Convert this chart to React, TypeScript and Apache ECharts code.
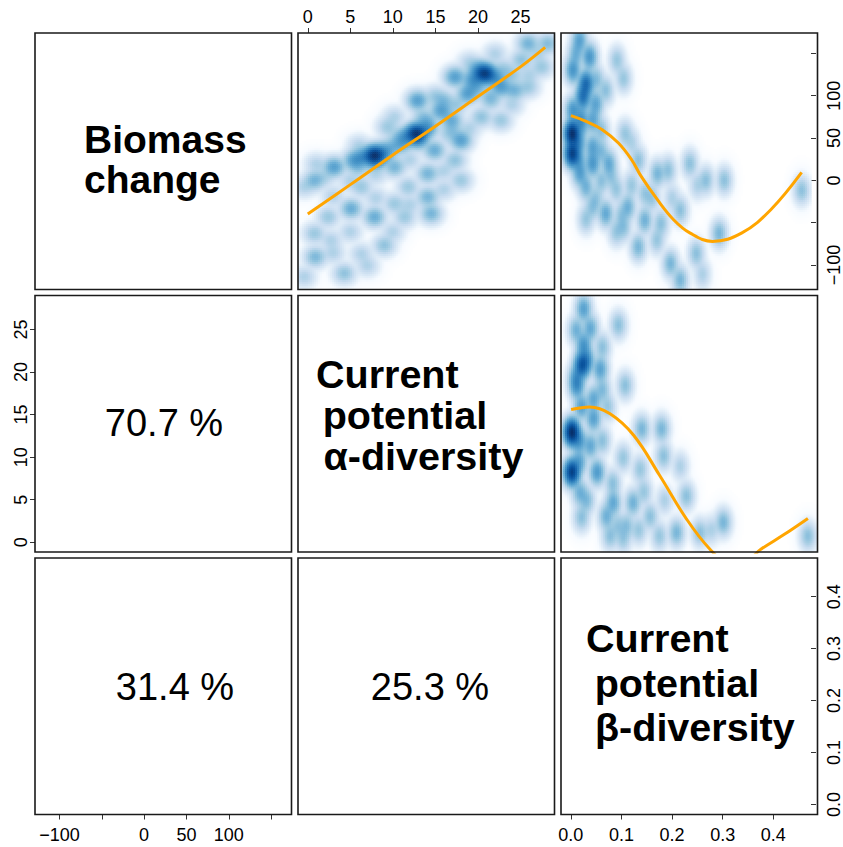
import React, { useEffect, useRef } from "react";
import * as echarts from "echarts";

// ---------------- axis ranges & ticks ----------------
const biomassRange: [number, number] = [-128.8, 174.0];
const alphaRange: [number, number] = [-1.15, 29.0];
const betaRange: [number, number] = [-0.0195, 0.4745];

const biomassTicks = [-100, -50, 0, 50, 100, 150];
const biomassTickLabels = [-100, 0, 50, 100];
const alphaTicks = [0, 5, 10, 15, 20, 25];
const betaTicks = [0, 0.1, 0.2, 0.3, 0.4];

// ---------------- diagonal / lower panel texts ----------------
const biomassName = ["Biomass", "change"];
const alphaName = ["Current", "potential", "α-diversity"];
const betaName = ["Current", "potential", "β-diversity"];
const explained = ["70.7 %", "31.4 %", "25.3 %"];

// ---------------- point clusters [x, y, number of sites] ----------------
// α-diversity (x) vs biomass change (y)
const alphaVsBiomass: number[][] = [
  // dense cores and their halos
  [20.8, 126.8, 40], [19.5, 120, 8], [22, 122, 8], [20, 132, 6],
  [12.75, 56, 45], [11.5, 52, 8], [14, 62, 8], [13, 48, 6],
  [7.85, 30.3, 45], [6.5, 28, 8], [9, 33, 8], [8, 24, 6],
  // medium clusters
  [25.9, 162.2, 4], [28.2, 162.2, 3], [27.5, 134.6, 2], [17.3, 122.8, 7],
  [22.75, 111, 7], [24.3, 107, 4], [18.8, 103, 7], [25.9, 111, 2], [12.9, 95, 7],
  [10.2, 75.6, 1.2], [15.7, 83, 7], [16.9, 71.7, 5], [18.0, 48, 7],
  [20.4, 75.5, 2.5], [22.7, 71.7, 2], [9.4, 63.8, 2], [11.0, 44.1, 5], [14.9, 36.2, 5],
  [5.5, 24.4, 8], [3.1, 16.5, 7], [0.8, 0.8, 4], [10.2, 16.5, 4],
  [14.1, 8.7, 4], [17.3, 24.4, 2.5], [18.0, 0.8, 2], [-0.4, -7, 1.2], [14.1, -18.9, 4],
  [14.5, -38.5, 4], [5.1, -32.6, 5], [7.85, -42.5, 5], [11.4, -42.5, 2], [2.4, -42.5, 2],
  [0.8, -62, 2], [10.2, -26.7, 2], [6.3, -7, 2], [0.9, -89.7, 3.5], [4.3, -109, 2.5],
  [9.0, -76, 2.5], [6.3, -86, 1.2], [-0.4, -113, 1.2], [2.75, -70, 1.2], [11.8, -7, 2],
  [25.1, 142.6, 2.5],
  // sparse sites
  [2, 5, 1.2], [5, 0, 1.2], [8, 8, 1.2], [9, 40, 1.2], [12, 25, 1.2], [16, 12, 1.2], [16.5, 55, 1.2],
  [19, 62, 1.2], [21.5, 95, 2], [23, 132, 2], [26, 125, 1.2], [27, 150, 1.2], [15, 100, 2],
  [13.5, 76, 2], [10.5, 52, 1.2], [6, 42, 1.2], [1, 20, 1.2], [3, -18, 1.2], [8, -20, 1.2],
  [12, -28, 1.2], [16, -10, 1.2], [3, -85, 1.2], [7, -100, 1.2], [5, -60, 1.2], [10, -60, 1.2],
  [20, 110, 2], [24, 90, 1.2], [17.5, 90, 2], [19, 140, 1.2], [22, 150, 1.2],
  [19.5, 112, 3], [16, 95, 3], [14, 70, 3], [21.5, 100, 2], [24, 125, 2], [10, 40, 3],
  [6, 15, 2], [17, 60, 2],
];
// β-diversity (x) vs biomass change (y)
const betaVsBiomass: number[][] = [
  [0.0025, 56, 45], [0.0025, 32.3, 35], [0.015, 45, 8], [0.02, 65, 6], [0.015, 25, 6],
  [0.017, 166, 6], [0.037, 146.4, 8], [0.004, 130.7, 8], [0.030, 115, 18], [0.024, 99.2, 16],
  [0.049, 91, 6], [0.004, 83.5, 8], [0.043, 71.7, 6],
  [0.043, 40.1, 6], [0.043, 20.5, 8], [0.075, 20.5, 5], [0.069, 107, 2.5], [0.091, 142.5, 2],
  [0.104, 121, 2], [0.107, 56, 2], [0.017, 8.7, 4], [0.030, -7, 4], [0.043, -30.7, 2.5],
  [0.069, -38.5, 5], [0.113, -30.7, 4], [0.133, 24.4, 2.5], [0.146, -46.4, 4], [0.104, -54.3, 2.5],
  [0.133, -78, 3.5], [0.171, 8.7, 3.5], [0.192, 12.6, 2.5], [0.216, -34.6, 2.5], [0.235, 20.5, 2.5],
  [0.267, 0.8, 2.5], [0.303, 0.8, 2.5], [0.197, -97.5, 3.5], [0.216, -117, 3.5], [0.248, -85.7, 2.5],
  [0.293, -62, 3.5], [0.456, -11, 2.5], [0.178, -50, 2.5], [0.146, -14.9, 2],
  [0.01, 150, 4], [0.05, 120, 3], [0.02, 75, 6], [0.06, 60, 2.5], [0.02, 10, 2.5], [0.06, 0, 2.5],
  [0.09, -10, 2], [0.12, -5, 2], [0.09, -60, 2], [0.16, -20, 2], [0.2, -20, 1.2],
  [0.17, -70, 2], [0.03, -45, 2], [0.12, 45, 1.2], [0.25, -5, 1.2], [0.26, -110, 1.2],
  [0.06, 35, 3], [0.08, 5, 2], [0.1, -40, 2], [0.05, -20, 2],
];
// β-diversity (x) vs α-diversity (y)
const betaVsAlpha: number[][] = [
  [0.0013, 13.0, 45], [0.0013, 8.3, 35], [0.021, 20.9, 25], [0.015, 12, 8], [0.015, 9.5, 6],
  [0.03, 21.5, 8], [0.01, 19.5, 6],
  [0.024, 27.5, 6], [0.037, 25.2, 5], [0.024, 23.2, 8], [0.056, 20.4, 6],
  [0.011, 18.5, 9], [0.043, 16.9, 5], [0.091, 25.6, 2.5], [0.104, 18.5, 2.5], [0.043, 14.6, 6],
  [0.037, 11.4, 5], [0.050, 8.3, 7], [0.017, 5.9, 4],
  [0.136, 13.4, 3.5], [0.174, 13.4, 3.5], [0.178, 10.2, 2.5], [0.081, 4.7, 5], [0.119, 4.7, 4],
  [0.068, 3.1, 4], [0.152, 3.1, 2.5], [0.222, 5.5, 2.5], [0.203, 1.2, 3.5], [0.248, 1.2, 2.5],
  [0.293, 2.4, 3.5], [0.456, 0.8, 2.5], [0.107, 2.0, 2.5], [0.133, 8.65, 2],
  [0.01, 25, 4], [0.06, 23, 2.5], [0.02, 16, 6], [0.06, 12, 2.5], [0.02, 3, 2.5], [0.08, 7, 2.5],
  [0.1, 10, 2], [0.14, 6, 2], [0.18, 5, 1.2], [0.1, 0.5, 2], [0.17, 0.8, 2],
  [0.27, 1.5, 1.2], [0.21, 9, 1.2], [0.07, 16, 2], [0.075, 0.8, 2.5],
  [0.03, 5, 3], [0.09, 2, 2], [0.13, 1.5, 2], [0.06, 18, 3],
];

// ---------------- loess smoothers ----------------
const loessAlphaX = [0, 5, 10, 15, 20, 25, 27.9];
const loessAlphaBiomass = [-39.7, -5, 30, 64, 99, 134, 157];
const loessBetaX1 = [0, 0.03, 0.062, 0.094, 0.12, 0.139, 0.171, 0.203, 0.235, 0.28, 0.338, 0.395, 0.456];
const loessBetaBiomass = [76.4, 69.7, 59.9, 44.1, 24.4, 4.7, -22.8, -46.4, -62, -72, -62, -34.6, 9.4];
const loessBetaX2 = [0, 0.036, 0.075, 0.12, 0.17, 0.222, 0.267, 0.3, 0.33, 0.366, 0.41, 0.456];
const loessBetaAlpha = [15.6, 15.9, 15.1, 12.6, 7.9, 2.75, -0.8, -2.3, -2.4, -0.8, 0.9, 2.8];

// ---------------- layout ----------------
const COLS = [35, 298, 561];
const ROWS = [33, 295.5, 558];
const SIZE = 256.5;
const FONT = '"Liberation Sans", Arial, Helvetica, sans-serif';

const RAMP = ["#FFFFFF", "#F7FBFF", "#DEEBF7", "#C6DBEF", "#9ECAE1", "#6BAED6", "#4292C6", "#2171B5", "#08519C", "#08306B"];
function hex(c: string) {
  return [parseInt(c.slice(1, 3), 16), parseInt(c.slice(3, 5), 16), parseInt(c.slice(5, 7), 16)];
}
function rampColor(t: number) {
  const p = t * (RAMP.length - 1);
  const i = Math.min(Math.floor(p), RAMP.length - 2);
  const f = p - i;
  const a = hex(RAMP[i]);
  const b = hex(RAMP[i + 1]);
  const c = a.map((v, k) => Math.round(v + (b[k] - v) * f));
  return `rgb(${c[0]},${c[1]},${c[2]})`;
}
const PALETTE = Array.from({ length: 256 }, (_, i) => rampColor(i / 255));

function densityCells(pts: number[][], xr: number[], yr: number[], bx: number, by: number, n: number) {
  const dx = (xr[1] - xr[0]) / n;
  const dy = (yr[1] - yr[0]) / n;
  const dens = new Float64Array(n * n);
  let mx = 0;
  for (let j = 0; j < n; j++) {
    const cy = yr[0] + (j + 0.5) * dy;
    for (let i = 0; i < n; i++) {
      const cx = xr[0] + (i + 0.5) * dx;
      let s = 0;
      for (const p of pts) {
        const u = (cx - p[0]) / bx;
        const v = (cy - p[1]) / by;
        const e = u * u + v * v;
        if (e < 60) s += p[2] * Math.exp(-0.5 * e);
      }
      dens[j * n + i] = s;
      if (s > mx) mx = s;
    }
  }
  const lev = (k: number) => Math.round(Math.pow(dens[k] / mx, 0.25) * 255);
  const cells: number[][] = [];
  for (let j = 0; j < n; j++) {
    let i = 0;
    while (i < n) {
      const L = lev(j * n + i);
      let k = i + 1;
      while (k < n && lev(j * n + k) === L) k++;
      if (L >= 5) cells.push([xr[0] + i * dx, yr[0] + j * dy, xr[0] + k * dx, yr[0] + (j + 1) * dy, L]);
      i = k;
    }
  }
  return cells;
}

const renderCell = (_params: any, api: any) => {
  const p0 = api.coord([api.value(0), api.value(3)]);
  const p1 = api.coord([api.value(2), api.value(1)]);
  return {
    type: "rect",
    shape: { x: p0[0], y: p0[1], width: p1[0] - p0[0] + 0.6, height: p1[1] - p0[1] + 0.6 },
    style: { fill: PALETTE[api.value(4)] },
  };
};

const minus = (v: number) => (v < 0 ? "\u2212" + Math.abs(v) : String(v));

function valueAxis(gridIndex: number, range: number[], cfg: any) {
  const base: any = {
    type: "value",
    gridIndex,
    min: range[0],
    max: range[1],
    splitLine: { show: false },
    axisLine: { show: false, onZero: false },
    show: !!cfg,
  };
  if (!cfg) return base;
  return {
    ...base,
    position: cfg.position,
    axisTick: { show: true, length: 5, customValues: cfg.ticks, lineStyle: { color: "#333", width: 1 } },
    axisLabel: {
      show: true,
      customValues: cfg.labels,
      formatter: cfg.formatter,
      rotate: cfg.rotate || 0,
      margin: cfg.margin,
      color: "#000",
      fontSize: 18,
      fontFamily: FONT,
      showMinLabel: true,
      showMaxLabel: true,
    },
  };
}

export default function App() {
  const ref = useRef<HTMLDivElement>(null);
  useEffect(() => {
    if (!ref.current) return;
    const chart = echarts.init(ref.current, undefined, { renderer: "svg" });

    const grids = [
      [1, 0], // 0: alpha vs biomass
      [2, 0], // 1: beta vs biomass
      [0, 1], // 2: left alpha axis
      [2, 1], // 3: beta vs alpha
      [0, 2], // 4: bottom biomass axis
      [2, 2], // 5: beta axes
    ].map(([c, r]) => ({ left: COLS[c], top: ROWS[r], width: SIZE, height: SIZE, show: false }));

    const xAxis = [
      valueAxis(0, alphaRange, { position: "top", ticks: alphaTicks, labels: alphaTicks, formatter: minus, margin: 7 }),
      valueAxis(1, betaRange, null),
      valueAxis(2, [0, 1], null),
      valueAxis(3, betaRange, null),
      valueAxis(4, biomassRange, { position: "bottom", ticks: biomassTicks, labels: biomassTickLabels, formatter: minus, margin: 11 }),
      valueAxis(5, betaRange, { position: "bottom", ticks: betaTicks, labels: betaTicks, formatter: (v: number) => v.toFixed(1), margin: 11 }),
    ];
    const yAxis = [
      valueAxis(0, biomassRange, null),
      valueAxis(1, biomassRange, { position: "right", ticks: biomassTicks, labels: biomassTickLabels, formatter: minus, rotate: 90, margin: 14 }),
      valueAxis(2, alphaRange, { position: "left", ticks: alphaTicks, labels: alphaTicks, formatter: minus, rotate: 90, margin: 5.5 }),
      valueAxis(3, alphaRange, null),
      valueAxis(4, [0, 1], null),
      valueAxis(5, betaRange, { position: "right", ticks: betaTicks, labels: betaTicks, formatter: (v: number) => v.toFixed(1), rotate: 90, margin: 14 }),
    ];

    const pxA = SIZE / (alphaRange[1] - alphaRange[0]);
    const pxBm = SIZE / (biomassRange[1] - biomassRange[0]);
    const pxBt = SIZE / (betaRange[1] - betaRange[0]);
    const N = 128;

    const densitySeries = (idx: number, pts: number[][], xr: number[], yr: number[], bx: number, by: number) => ({
      type: "custom",
      coordinateSystem: "cartesian2d",
      xAxisIndex: idx,
      yAxisIndex: idx,
      renderItem: renderCell,
      dimensions: ["x0", "y0", "x1", "y1", "lev"],
      encode: { x: [0, 2], y: [1, 3] },
      data: densityCells(pts, xr, yr, bx, by, N),
      silent: true,
      progressive: 0,
      z: 1,
    });
    const loess = (idx: number, xs: number[], ys: number[]) => ({
      type: "line",
      xAxisIndex: idx,
      yAxisIndex: idx,
      data: xs.map((x, i) => [x, ys[i]]),
      smooth: 0.4,
      showSymbol: false,
      clip: true,
      silent: true,
      lineStyle: { color: "#FFA500", width: 3 },
      z: 5,
    });

    const series = [
      densitySeries(0, alphaVsBiomass, alphaRange, biomassRange, 5.4 / pxA, 5.0 / pxBm),
      densitySeries(1, betaVsBiomass, betaRange, biomassRange, 3.9 / pxBt, 6.6 / pxBm),
      densitySeries(3, betaVsAlpha, betaRange, alphaRange, 3.9 / pxBt, 6.6 / pxA),
      loess(0, loessAlphaX, loessAlphaBiomass),
      loess(1, loessBetaX1, loessBetaBiomass),
      loess(3, loessBetaX2, loessBetaAlpha),
    ];

    const graphic: any[] = [];
    for (let r = 0; r < 3; r++)
      for (let c = 0; c < 3; c++)
        graphic.push({
          type: "rect",
          z: 100,
          silent: true,
          shape: { x: COLS[c], y: ROWS[r], width: SIZE, height: SIZE },
          style: { fill: "none", stroke: "#1a1a1a", lineWidth: 1.6 },
        });
    const txt = (text: string, x: number, baseline: number, size: number, bold: boolean, align = "left") => ({
      type: "text",
      z: 101,
      silent: true,
      x,
      y: baseline - 0.3465 * size,
      style: {
        text,
        font: `${bold ? "bold " : ""}${size}px ${FONT}`,
        fill: "#000",
        align,
        textAlign: align,
        verticalAlign: "middle",
        textVerticalAlign: "middle",
      },
    });
    graphic.push(txt(biomassName[0], 84, 153.3, 39, true));
    graphic.push(txt(biomassName[1], 84, 193.3, 39, true));
    graphic.push(txt(alphaName[0], 316, 388, 39.5, true));
    graphic.push(txt(alphaName[1], 322.7, 429, 39.5, true));
    graphic.push(txt(alphaName[2], 323.5, 470, 39.5, true));
    graphic.push(txt(betaName[0], 586, 652, 39.5, true));
    graphic.push(txt(betaName[1], 594.7, 697, 39.5, true));
    graphic.push(txt(betaName[2], 595, 741, 39.5, true));
    graphic.push(txt(explained[0], 164, 435.7, 38, false, "center"));
    graphic.push(txt(explained[1], 175, 700, 38, false, "center"));
    graphic.push(txt(explained[2], 430, 700, 38, false, "center"));

    chart.setOption({
      animation: false,
      backgroundColor: "#ffffff",
      grid: grids,
      xAxis,
      yAxis,
      series,
      graphic,
    });
    return () => chart.dispose();
  }, []);
  return <div ref={ref} style={{ position: "fixed", left: 0, top: 0, width: 843, height: 847, background: "#fff" }} />;
}
